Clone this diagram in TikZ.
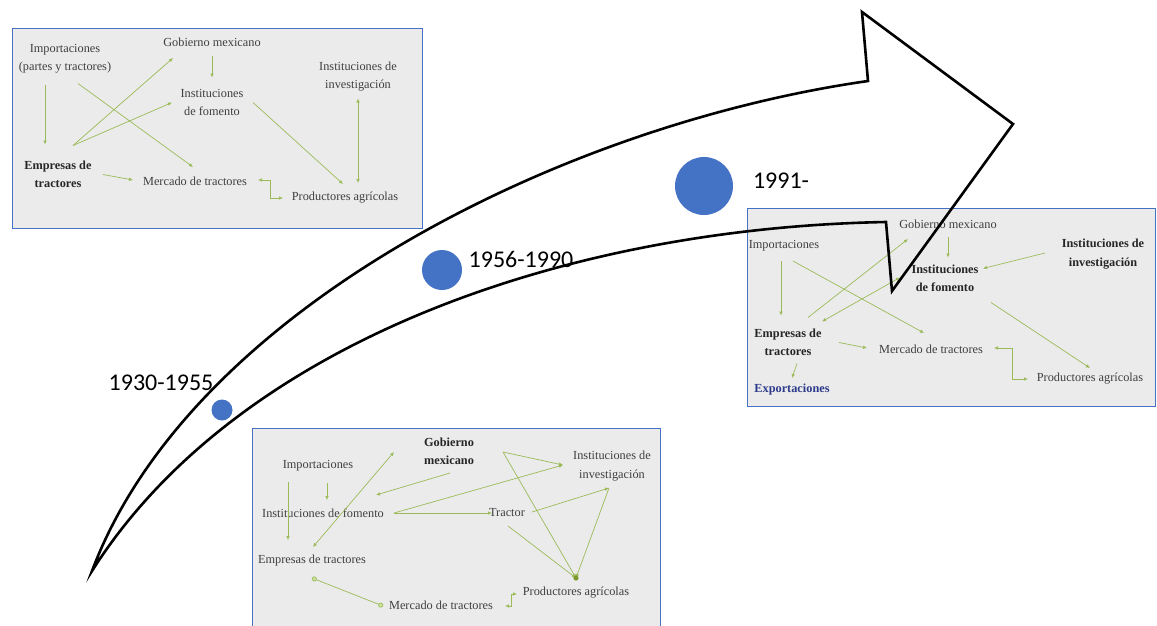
\documentclass[tikz,border=0pt]{standalone}
\usepackage{fontspec}
\setmainfont{Liberation Serif}
\newfontfamily\yearfont{Carlito}
\usetikzlibrary{calc,arrows.meta,positioning}
\definecolor{linkgreen}{HTML}{9BBB59}
\definecolor{dotgreen}{HTML}{7A9A2E}
\definecolor{paleoval}{HTML}{C9E39A}
\definecolor{officeblue}{HTML}{4472C4}
\definecolor{boxgray}{HTML}{EBEBEB}
\definecolor{labtext}{HTML}{3F3F3F}
\definecolor{exptext}{HTML}{2B3A8A}

\begin{document}
\begin{tikzpicture}[x=1pt,y=-1pt,
    lbl/.style={text=labtext, inner sep=1pt, align=center, font=\fontsize{12.3}{18.5}\selectfont},
    lblb/.style={lbl, text=black!85, font=\fontsize{12.3}{18.5}\selectfont\bfseries},
    lnk/.style={draw=linkgreen, line width=0.7pt, -{Latex[length=4pt,width=3.6pt]}},
    lnkboth/.style={lnk, {Latex[length=4pt,width=3.6pt]}-{Latex[length=4pt,width=3.6pt]}},
    frame/.style={draw=officeblue, line width=0.9pt, fill=boxgray},
    year/.style={font=\yearfont\fontsize{24}{28}\selectfont, inner sep=0pt},
    bubble/.style={circle, fill=officeblue, inner sep=0pt}]
  \useasboundingbox (0,0) rectangle (1157,625);
  \clip (0,0) rectangle (1157,625);
  % Three panels
  \draw[frame] (12,28) rectangle (422,228);
  \draw[frame] (747,208) rectangle (1155,406);
  \draw[frame] (252,428) rectangle (660,640);

  % Panel 1930-1955
  \node[lbl] (impA) at (65,58.5) {Importaciones\\(partes y tractores)};
  \node[lbl] (gobA) at (212,42) {Gobierno mexicano};
  \node[lbl] (fomA) at (212,102.5) {Instituciones\\de fomento};
  \node[lbl] (invA) at (358,76.5) {Instituciones de\\investigación};
  \node[lblb] (empA) at (58,174.5) {Empresas de\\tractores};
  \node[lbl] (merA) at (195,181) {Mercado de tractores};
  \node[lbl] (proA) at (345,198) {Productores agrícolas};
  \draw[lnk] ($(impA)+(-20,26)$) -- ($(empA)+(-13,-30)$);
  \draw[lnk] ($(impA)+(13,25)$) -- ($(merA)+(-2,-14)$);
  \draw[lnk] ($(empA)+(15,-29)$) -- ($(gobA)+(-39,16)$);
  \draw[lnk] ($(empA)+(15,-29)$) -- ($(fomA)+(-40,0)$);
  \draw[lnk] ($(gobA)+(0,14)$) -- ($(fomA)+(0,-25)$);
  \draw[lnk] ($(fomA)+(41,0)$) -- ($(proA)+(-2,-14)$);
  \draw[lnkboth] ($(invA)+(0,22)$) -- ($(proA)+(13,-15)$);
  \draw[lnk] ($(empA)+(45,0)$) -- ($(merA)+(-62,-1)$);
  \draw[lnkboth] ($(merA)+(63,-1)$) -- ++(12,0) |- ($(proA)+(-62,0)$);

  % Panel 1991-
  \node[lbl] (gobB) at (948,224) {Gobierno mexicano};
  \node[lbl] (impB) at (784,246) {Importaciones};
  \node[lblb] (invB) at (1103,254) {Instituciones de\\investigación};
  \node[lblb] (fomB) at (945,278.5) {Instituciones\\de fomento};
  \node[lblb] (empB) at (788,342.5) {Empresas de\\tractores};
  \node[lbl] (merB) at (931,349) {Mercado de tractores};
  \node[lbl] (proB) at (1090,379) {Productores agrícolas};
  \node[lblb, text=exptext] (expB) at (792,390) {Exportaciones};
  \draw[lnk] ($(impB)+(-3,15)$) -- ($(empB)+(-7,-27)$);
  \draw[lnk] ($(impB)+(9,15)$) -- ($(merB)+(-7,-16)$);
  \draw[lnk] ($(empB)+(20,-25)$) -- ($(gobB)+(-40,15)$);
  \draw[lnkboth] ($(fomB)+(-45,-1)$) -- ($(empB)+(34,-21)$);
  \draw[lnk] ($(gobB)+(0,13)$) -- ($(fomB)+(3,-21)$);
  \draw[lnk] ($(invB)+(-58,-1)$) -- ($(fomB)+(38,-10)$);
  \draw[lnk] ($(fomB)+(46,24)$) -- ($(proB)+(0,-11)$);
  \draw[lnk] ($(empB)+(51,0)$) -- ($(merB)+(-64,-1)$);
  \draw[lnkboth] ($(merB)+(63,-1)$) -- ++(18,0) |- ($(proB)+(-62,0)$);
  \draw[lnk] ($(empB)+(9,21)$) -- ($(expB)+(0,-12)$);

  % Panel 1956-1990
  \node[lblb] (gobC) at (449,451.5) {Gobierno\\mexicano};
  \node[lbl] (impC) at (318,466) {Importaciones};
  \node[lbl] (invC) at (612,466) {Instituciones de\\investigación};
  \node[lbl] (fomC) at (323,513) {Instituciones de fomento};
  \node[lbl] (traC) at (507,513) {Tractor};
  \node[lbl] (empC) at (312,561) {Empresas de tractores};
  \node[lbl] (proC) at (576,593) {Productores agrícolas};
  \node[lbl] (merC) at (441,605) {Mercado de tractores};
  \coordinate (apexC) at ($(gobC)+(54,0.5)$);
  \coordinate (hubC) at ($(proC)+(0,-15)$);
  \draw[lnk] ($(impC)+(-30,16)$) -- ($(empC)+(-24,-21)$);
  \draw[lnk] ($(impC)+(9,17)$) -- ($(fomC)+(4,-13)$);
  \draw[lnkboth] ($(empC)+(1,-14)$) -- ($(gobC)+(-55,0.5)$);
  \draw[lnk] ($(gobC)+(1,21.5)$) -- ($(fomC)+(53,-18)$);
  \draw[lnk] ($(fomC)+(71,0)$) -- ($(invC)+(-49,-1)$);
  \draw[lnk] ($(fomC)+(71,0)$) -- ($(traC)+(-15,0)$);
  \draw[lnk] (apexC) -- ($(invC)+(-49,-1)$);
  \draw[lnk] (apexC) -- (hubC);
  \draw[lnk] ($(traC)+(25,-1)$) -- ($(invC)+(-3,22)$);
  \draw[lnk] ($(invC)+(-3,22)$) -- (hubC);
  \draw[lnk] ($(traC)+(1,13)$) -- (hubC);
  \fill[dotgreen] (hubC) circle (2.6);
  \draw[draw=linkgreen, line width=0.7pt, {Circle[length=5pt,fill=paleoval]}-{Circle[length=5pt,fill=paleoval]}]
    ($(empC)+(0,17)$) -- ($(merC)+(-58,1)$);
  \draw[lnkboth] ($(merC)+(64,1)$) -- ++(6,0) |- ($(proC)+(-59,1)$);

  % Periods along the arrow
  \node[bubble, minimum size=21] (dot1) at (222,410) {};
  \node[bubble, minimum size=40] (dot2) at (442,270) {};
  \node[bubble, minimum size=58] (dot3) at (704,186) {};
  \node[year] (yr1) at (161,383) {1930-1955};
  \node[year] (yr2) at (521,259) {1956-1990};
  \node[year] (yr3) at (781,181) {1991-};

  % Big curved arrow
  \coordinate (tail) at (92,571);
  \coordinate (notchU) at (868,81);
  \coordinate (headT) at (862,12);
  \coordinate (headR) at (1013,124);
  \coordinate (headB) at (892,291);
  \coordinate (notchL) at (886,222);
  \draw[line width=2.6pt, line join=miter] (tail) .. controls (190,310) and (560,125) .. (notchU)
    -- (headT) -- (headR) -- (headB) -- (notchL)
    .. controls (560,228) and (235,345) .. (tail) -- cycle;
\end{tikzpicture}
\end{document}
